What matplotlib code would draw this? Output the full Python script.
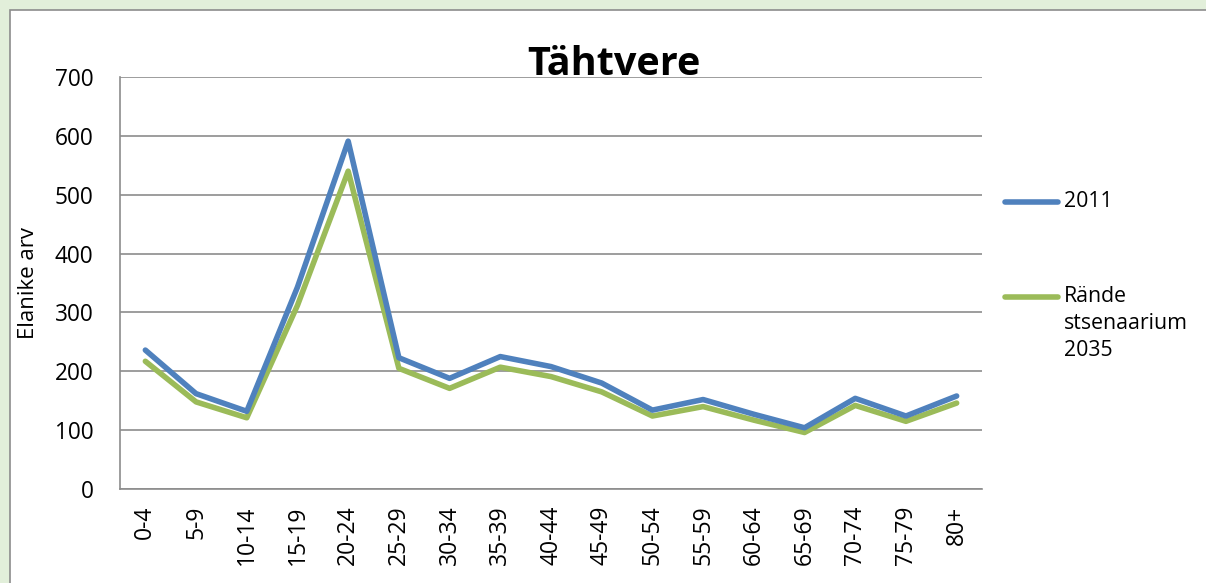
import matplotlib
matplotlib.use('Agg')
import matplotlib.pyplot as plt
from matplotlib.patches import Rectangle
from matplotlib.lines import Line2D

# Data
age_groups = ['0-4', '5-9', '10-14', '15-19', '20-24', '25-29', '30-34', '35-39',
              '40-44', '45-49', '50-54', '55-59', '60-64', '65-69', '70-74',
              '75-79', '80+']
pop_2011 = [236, 162, 132, 343, 591, 223, 188, 225, 208, 180, 134, 152, 127, 104, 154, 124, 158]
pop_2035 = [217, 148, 121, 312, 540, 205, 171, 207, 191, 165, 124, 140, 117, 96, 142, 115, 146]
y_ticks = [0, 100, 200, 300, 400, 500, 600, 700]
series_names = ['2011', 'Rände\nstsenaarium\n2035']
series_colors = ['#4F81BD', '#9BBB59']

plt.rcParams['font.family'] = ['Open Sans', 'DejaVu Sans']

W, H = 1206, 583
fig = plt.figure(figsize=(W / 100, H / 100), dpi=100)
fig.patch.set_facecolor('#E2EFDA')

# white chart panel with grey border
panel = Rectangle((10 / W, -0.05), 1.2, 1 - 10 / H + 0.05, transform=fig.transFigure,
                  facecolor='white', edgecolor='#8C8C8C', linewidth=1.2, zorder=-5)
fig.add_artist(panel)

ax = fig.add_axes([120 / W, 1 - 489 / H, (982 - 120) / W, (489 - 77) / H])
ax.set_zorder(2)
ax.set_facecolor('white')

x = range(len(age_groups))
ax.plot(x, pop_2011, color=series_colors[0], linewidth=4, solid_capstyle='round',
        solid_joinstyle='round', zorder=3)
ax.plot(x, pop_2035, color=series_colors[1], linewidth=4, solid_capstyle='round',
        solid_joinstyle='round', zorder=2)

ax.set_xlim(-0.5, len(age_groups) - 0.5)
ax.set_ylim(0, 700)
ax.set_yticks(y_ticks)
ax.set_xticks(list(x))
ax.set_xticklabels(age_groups, rotation=90, fontsize=16.5)
ax.tick_params(axis='y', labelsize=16.3, length=0, pad=19)
ax.tick_params(axis='x', length=0, pad=12)
ax.grid(axis='y', color='#8C8C8C', linewidth=1.2)
ax.set_axisbelow(True)
for s in ['top', 'right']:
    ax.spines[s].set_visible(False)
for s in ['left', 'bottom']:
    ax.spines[s].set_color('#8C8C8C')
    ax.spines[s].set_linewidth(1.2)

fig.text(29 / W, 1 - 283 / H, 'Elanike arv', rotation=90, fontsize=16,
         ha='center', va='center')
fig.text(614 / W, 1 - 75 / H, 'Tähtvere', fontsize=28.5, fontweight='bold',
         ha='center', va='baseline', zorder=5)

# legend drawn by hand to match the Excel layout
legend_y = [202, 297]
for name, color, ly in zip(series_names, series_colors, legend_y):
    fig.add_artist(Line2D([1005 / W, 1058 / W], [1 - ly / H, 1 - ly / H],
                          transform=fig.transFigure, color=color, linewidth=4,
                          solid_capstyle='round'))
    fig.text(1064 / W, 1 - (ly - 11) / H, name, fontsize=15.3, ha='left', va='top',
             linespacing=1.38)

plt.savefig('out.png', dpi=100, facecolor=fig.get_facecolor())
